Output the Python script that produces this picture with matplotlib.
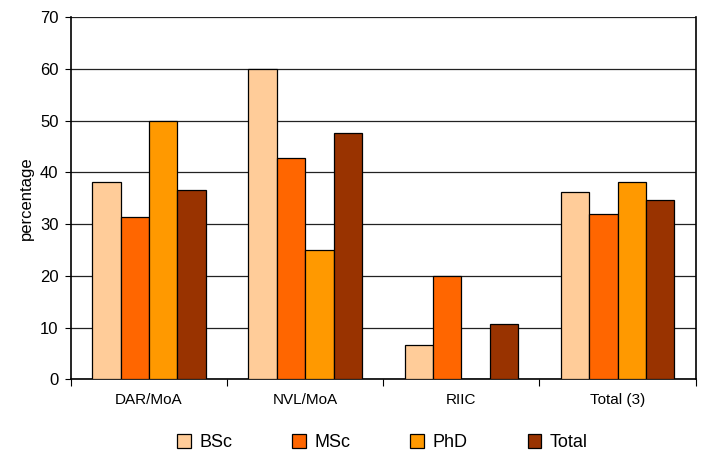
import matplotlib.pyplot as plt
import numpy as np

plt.rcParams['font.family'] = ['Liberation Sans', 'DejaVu Sans']

categorias = ["DAR/MoA", "NVL/MoA", "RIIC", "Total (3)"]
series = ["BSc", "MSc", "PhD", "Total"]
bsc = [38.2, 60.0, 6.6, 36.1]
msc = [31.3, 42.7, 20.0, 31.9]
phd = [50.0, 25.0, 0.0, 38.2]
total = [36.5, 47.5, 10.7, 34.6]
colores = ["#FFCC99", "#FF6600", "#FF9900", "#993300"]


def graficar():
    fig = plt.figure(figsize=(7.02, 4.55), dpi=100)
    ax = fig.add_axes([0.101, 0.1664, 0.890, 0.7962])

    valores = [bsc, msc, phd, total]
    x = np.arange(len(categorias))
    ancho = 0.182
    for i, (nombre, vals) in enumerate(zip(series, valores)):
        ax.bar(x + (i - 1.5) * ancho, vals, ancho, label=nombre,
               color=colores[i], edgecolor="black", linewidth=0.9, zorder=3)

    ax.set_xlim(-0.5, len(categorias) - 0.5)
    ax.set_ylim(0, 70)
    ax.set_yticks(range(0, 71, 10))
    ax.yaxis.grid(True, color="#222222", linewidth=0.9, zorder=0)

    # Ticks del eje X en los límites de cada categoría
    ax.set_xticks(np.arange(-0.5, len(categorias), 1.0))
    ax.set_xticklabels([])
    ax.set_xticks(x, minor=True)
    ax.set_xticklabels(categorias, minor=True)
    ax.tick_params(axis="x", which="minor", length=0, pad=10, labelsize=11)
    ax.tick_params(axis="x", which="major", length=5, direction="out")
    ax.tick_params(axis="y", length=4, direction="out", labelsize=12, pad=5)

    ax.spines["top"].set_visible(False)
    for lado in ["left", "bottom", "right"]:
        ax.spines[lado].set_linewidth(1.2)
        ax.spines[lado].set_color("black")

    ax.set_ylabel("percentage", fontsize=12, labelpad=4)

    fig.legend(loc="center", bbox_to_anchor=(0.545, 0.027), ncol=4, frameon=False,
               fontsize=13, handlelength=0.75, handleheight=0.75,
               columnspacing=3.3, handletextpad=0.5)

    fig.savefig("out.png", dpi=100)
    plt.close(fig)


if __name__ == "__main__":
    graficar()
